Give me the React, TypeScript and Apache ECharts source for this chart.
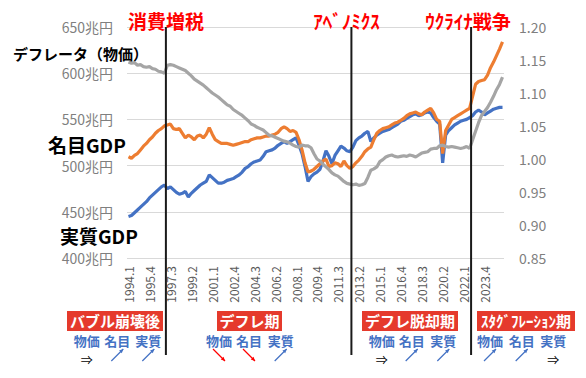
import React, { useEffect, useRef } from 'react';
import * as echarts from 'echarts';

// ---- data ----
const startYear = 1994;
const quarterCount = 126; // 1994.1 .. 2025.2
const categories: string[] = [];
for (let i = 0; i < quarterCount; i++) {
  categories.push(`${startYear + Math.floor(i / 4)}.${(i % 4) + 1}`);
}

// 名目GDP (兆円)
const nominalGDP = [
  509.6, 508, 511, 513, 517, 521, 524, 528, 531, 535, 538, 540, 543, 544, 545, 540,
  539, 540, 535, 530, 533, 531, 528, 532, 533, 530, 534, 541, 534, 528, 526, 524,
  524, 524, 523, 522, 523, 524, 525, 526, 526, 528, 529, 530, 530, 531, 532, 532,
  533, 534, 536, 540, 542, 540, 537, 538, 536, 528, 517, 503, 493, 494, 496, 499,
  502, 505, 507, 499, 500, 503, 502, 499, 505, 500, 497, 499, 503, 506, 510, 515,
  518, 520, 528, 535, 538, 540, 541, 542, 544, 546, 547, 549, 551, 554, 556, 557,
  558, 556, 555, 558, 560, 562, 557, 550, 548, 513, 538, 544, 550, 552, 554, 556,
  558, 560, 562, 575, 588, 591, 592, 593, 598, 606, 612, 619, 626, 634,
];

// 実質GDP (兆円)
const realGDP = [
  445, 446, 449, 452, 455, 458, 461, 465, 468, 471, 474, 477, 479, 475, 477, 474,
  471, 469, 470, 472, 466, 470, 473, 476, 479, 481, 483, 490, 487, 484, 481, 481,
  482, 484, 485, 486, 488, 490, 493, 497, 499, 502, 504, 505, 506, 510, 515, 516,
  517, 519, 522, 524, 526, 524, 526, 528, 530, 522, 513, 499, 483, 488, 491, 493,
  496, 505, 516, 510, 502, 511, 516, 521, 519, 516, 515, 520, 527, 530, 532, 535,
  537, 526, 530, 533, 535, 537, 538, 539, 541, 543, 545, 548, 549, 551, 553, 555,
  556, 554, 555, 557, 558, 557, 552, 548, 545, 503, 533, 538, 541, 544, 546, 548,
  549, 550, 552, 554, 558, 560, 558, 555, 557, 559, 561, 562, 563, 563,
];

// デフレータ（物価）
const deflator = [
  1.147, 1.145, 1.146, 1.142, 1.143, 1.140, 1.139, 1.140, 1.137, 1.136, 1.133, 1.132, 1.130, 1.142, 1.143, 1.142,
  1.140, 1.138, 1.136, 1.134, 1.130, 1.126, 1.121, 1.118, 1.115, 1.112, 1.108, 1.104, 1.100, 1.097, 1.094, 1.090,
  1.086, 1.082, 1.080, 1.075, 1.072, 1.069, 1.066, 1.062, 1.058, 1.053, 1.051, 1.048, 1.046, 1.044, 1.040, 1.036,
  1.035, 1.033, 1.031, 1.029, 1.027, 1.026, 1.024, 1.021, 1.019, 1.018, 1.021, 1.020, 1.020, 1.017, 1.008, 1.000,
  0.997, 0.992, 0.988, 0.984, 0.979, 0.976, 0.974, 0.970, 0.966, 0.963, 0.962, 0.961, 0.962, 0.960, 0.961, 0.963,
  0.972, 0.983, 0.985, 0.988, 0.996, 0.999, 1.003, 1.005, 1.006, 1.004, 1.003, 1.004, 1.005, 1.004, 1.006, 1.005,
  1.003, 1.006, 1.009, 1.010, 1.011, 1.015, 1.016, 1.016, 1.020, 1.021, 1.019, 1.018, 1.019, 1.018, 1.017, 1.016,
  1.017, 1.019, 1.016, 1.029, 1.042, 1.055, 1.066, 1.072, 1.078, 1.086, 1.095, 1.105, 1.113, 1.124,
];

const leftMin = 400;
const leftMax = 650;
const leftStep = 50;
const rightMin = 0.85;
const rightMax = 1.2;
const rightStep = 0.05;

const events = [
  { label: '消費増税', at: '1997.2' },
  { label: 'ｱﾍﾞﾉﾐｸｽ', at: '2012.4' },
  { label: 'ｳｸﾗｲﾅ戦争', at: '2022.4' },
];

const periods = [
  { label: 'バブル崩壊後', arrows: ['flat', 'up', 'up'] },
  { label: 'デフレ期', arrows: ['down', 'down', 'up'] },
  { label: 'デフレ脱却期', arrows: ['flat', 'up', 'up'] },
  { label: 'ｽﾀｸﾞﾌﾚｰｼｮﾝ期', arrows: ['up', 'up', 'flat'] },
];
const periodWords = ['物価', '名目', '実質'];

// ---- layout (pixels) ----
const FONT = '"Noto Sans CJK JP", "Noto Sans", sans-serif';
const eventLabelDx = [0, -5, -3];
const periodBoxes = [
  { cx: 115, w: 96, words: [86.7, 117.3, 148.3] },
  { cx: 249.5, w: 65, words: [219, 249, 280.7] },
  { cx: 410, w: 96, words: [381.7, 411.7, 443.3] },
  { cx: 526, w: 98, words: [490, 521.7, 553.3] },
];

function arrowElements(kind: string, cx: number, cy: number): any[] {
  if (kind === 'flat') {
    return [{
      type: 'text', z: 10,
      style: { text: '⇒', x: cx, y: cy + 4, fill: '#000', font: `12px ${FONT}`, lineHeight: 12, textAlign: 'center', textVerticalAlign: 'middle' },
    }];
  }
  const color = kind === 'up' ? '#4472C4' : '#FF0000';
  const x1 = cx - 6, x2 = cx + 6;
  const yA = kind === 'up' ? cy + 6 : cy - 6;
  const yB = kind === 'up' ? cy - 6 : cy + 6;
  const ang = Math.atan2(yB - yA, x2 - x1);
  const hl = 4.5;
  const p1 = [x2 - hl * Math.cos(ang - 0.45), yB - hl * Math.sin(ang - 0.45)];
  const p2 = [x2 - hl * Math.cos(ang + 0.45), yB - hl * Math.sin(ang + 0.45)];
  return [
    { type: 'line', z: 10, shape: { x1, y1: yA, x2, y2: yB }, style: { stroke: color, lineWidth: 1.2 } },
    { type: 'polygon', z: 10, shape: { points: [[x2, yB], p1, p2] }, style: { fill: color } },
  ];
}

export default function App() {
  const ref = useRef<HTMLDivElement>(null);
  useEffect(() => {
    if (!ref.current) return;
    const chart = echarts.init(ref.current, undefined, { renderer: 'svg' });
    const gridTop = 27;
    const gridBottom = 120;
    chart.setOption({
      animation: false,
      grid: { left: 127, right: 82, top: gridTop, bottom: gridBottom },
      xAxis: {
        type: 'category',
        data: categories,
        boundaryGap: true,
        axisLine: { show: false },
        axisTick: { show: false },
        axisLabel: { interval: 6, rotate: 90, color: '#595959', fontSize: 12, fontFamily: FONT, margin: 8 },
      },
      yAxis: [
        {
          type: 'value', min: leftMin, max: leftMax, interval: leftStep,
          axisLine: { show: false }, axisTick: { show: false },
          splitLine: { lineStyle: { color: '#D9D9D9', width: 1 } },
          axisLabel: { formatter: (v: number) => `${v}兆円`, color: '#7F7F7F', fontSize: 14, fontFamily: FONT, margin: 14 },
        },
        {
          type: 'value', min: rightMin, max: rightMax, interval: rightStep,
          axisLine: { show: false }, axisTick: { show: false }, splitLine: { show: false },
          axisLabel: { formatter: (v: number) => v.toFixed(2), color: '#7F7F7F', fontSize: 14, fontFamily: FONT, margin: 15 },
        },
      ],
      series: [
        { name: '実質GDP', type: 'line', data: realGDP, yAxisIndex: 0, symbol: 'none', lineStyle: { color: '#4472C4', width: 3.2 }, itemStyle: { color: '#4472C4' }, z: 2 },
        { name: '名目GDP', type: 'line', data: nominalGDP, yAxisIndex: 0, symbol: 'none', lineStyle: { color: '#ED7D31', width: 3.2 }, itemStyle: { color: '#ED7D31' }, z: 3 },
        { name: 'デフレータ', type: 'line', data: deflator, yAxisIndex: 1, symbol: 'none', lineStyle: { color: '#A5A5A5', width: 3.2 }, itemStyle: { color: '#A5A5A5' }, z: 4 },
      ],
    });

    const x0 = chart.convertToPixel({ xAxisIndex: 0 }, categories[0]) as number;
    const x1 = chart.convertToPixel({ xAxisIndex: 0 }, categories[1]) as number;
    const band = x1 - x0;

    const elements: any[] = [];
    events.forEach((ev, k) => {
      const cx = (chart.convertToPixel({ xAxisIndex: 0 }, ev.at) as number) - band / 2;
      elements.push({ type: 'line', z: 20, shape: { x1: cx, y1: gridTop, x2: cx, y2: 355 }, style: { stroke: '#1a1a1a', lineWidth: 2 } });
      elements.push({
        type: 'text', z: 21,
        style: { text: ev.label, x: cx + eventLabelDx[k], y: 20, fill: '#FF0000', font: `bold 19px ${FONT}`, lineHeight: 19, textAlign: 'center', textVerticalAlign: 'middle' },
      });
    });

    elements.push({ type: 'text', z: 21, style: { text: 'デフレータ（物価）', x: 13, y: 53, fill: '#000', font: `bold 15px ${FONT}`, lineHeight: 15, textAlign: 'left', textVerticalAlign: 'middle' } });
    elements.push({ type: 'text', z: 21, style: { text: '名目GDP', x: 48, y: 144, fill: '#000', font: `bold 19px ${FONT}`, lineHeight: 19, textAlign: 'left', textVerticalAlign: 'middle' } });
    elements.push({ type: 'text', z: 21, style: { text: '実質GDP', x: 60, y: 235, fill: '#000', font: `bold 19px ${FONT}`, lineHeight: 19, textAlign: 'left', textVerticalAlign: 'middle' } });

    periods.forEach((p, k) => {
      const b = periodBoxes[k];
      elements.push({ type: 'rect', z: 20, shape: { x: b.cx - b.w / 2, y: 311, width: b.w, height: 20 }, style: { fill: '#E53A2C' } });
      elements.push({ type: 'text', z: 21, style: { text: p.label, x: b.cx, y: 320, fill: '#fff', font: `bold 15px ${FONT}`, lineHeight: 15, textAlign: 'center', textVerticalAlign: 'middle' } });
      periodWords.forEach((w, j) => {
        elements.push({ type: 'text', z: 21, style: { text: w, x: b.words[j], y: 340.5, fill: '#4472C4', font: `bold 13px ${FONT}`, lineHeight: 13, textAlign: 'center', textVerticalAlign: 'middle' } });
        elements.push(...arrowElements(p.arrows[j], b.words[j], 355));
      });
    });

    chart.setOption({ graphic: { elements } });
    return () => chart.dispose();
  }, []);
  return <div ref={ref} style={{ position: 'absolute', left: 0, top: 0, width: 586, height: 378, background: '#fff' }} />;
}
